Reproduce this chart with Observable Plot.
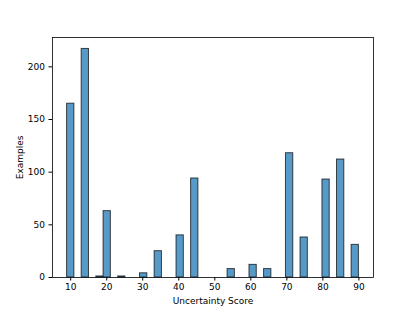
<!DOCTYPE html>
<html>
<head>
<meta charset="utf-8">
<script src="https://cdn.jsdelivr.net/npm/d3@7"></script>
<script src="https://cdn.jsdelivr.net/npm/@observablehq/plot@0.6"></script>
<style>
  html, body { margin: 0; padding: 0; background: #fff; }
  #chart { width: 415px; height: 311px; }
</style>
</head>
<body>
<div id="chart"></div>
<script>
// Histogram bins (left edge, right edge) and counts
const binLo  = [9, 13.05, 17.1, 19.125, 23.175, 29.25, 33.3, 39.375, 43.425, 53.55, 59.625, 63.675, 69.75, 73.8, 79.875, 83.925, 87.975];
const binHi  = [11.025, 15.075, 19.125, 21.15, 25.2, 31.275, 35.325, 41.4, 45.45, 55.575, 61.65, 65.7, 71.775, 75.825, 81.9, 85.95, 90];
const counts = [165, 217, 1, 63, 1, 4, 25, 40, 94, 8, 12, 8, 118, 38, 93, 112, 31];
const xTicks = [10, 20, 30, 40, 50, 60, 70, 80, 90];
const yTicks = [0, 50, 100, 150, 200];

const bins = binLo.map((lo, i) => ({lo, hi: binHi[i], count: counts[i]}));

const chart = Plot.plot({
  width: 415,
  height: 311,
  marginLeft: 52,
  marginRight: 42,
  marginTop: 37,
  marginBottom: 34,
  style: {fontFamily: "'DejaVu Sans', sans-serif", fontSize: "9px", background: "white", color: "black"},
  x: {domain: [4.95, 94.05]},
  y: {domain: [0, 227.85]},
  marks: [
    Plot.rectY(bins, {x1: "lo", x2: "hi", y: "count", fill: "#5799c7", stroke: "#000", strokeOpacity: 0.7, strokeWidth: 1}),
    Plot.frame({stroke: "black", strokeWidth: 0.8}),
    Plot.axisX({ticks: xTicks, tickSize: 3.5, tickPadding: 3, label: "Uncertainty Score", labelAnchor: "center", labelArrow: "none", labelOffset: 26}),
    Plot.axisY({ticks: yTicks, tickSize: 3.5, tickPadding: 4, label: "Examples", labelAnchor: "center", labelArrow: "none", labelOffset: 36})
  ]
});
document.getElementById("chart").appendChild(chart);
</script>
</body>
</html>
